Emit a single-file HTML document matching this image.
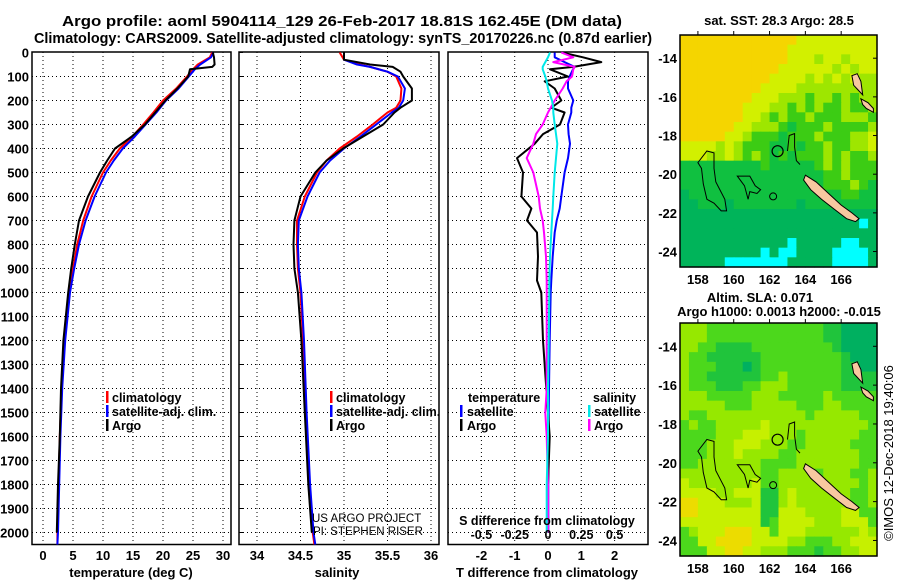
<!DOCTYPE html>
<html><head><meta charset="utf-8">
<style>
html,body{margin:0;padding:0;background:#fff;}
svg{display:block;font-family:"Liberation Sans",sans-serif;}
.b{font-weight:bold;}
</style></head>
<body>
<svg id="fig" width="900" height="580" viewBox="0 0 900 580" xmlns="http://www.w3.org/2000/svg">
<text x="342" y="26" text-anchor="middle" class="b" font-size="14.5" textLength="560" lengthAdjust="spacingAndGlyphs">Argo profile: aoml 5904114_129 26-Feb-2017 18.81S 162.45E (DM data)</text>
<text x="343" y="43" text-anchor="middle" class="b" font-size="14.5" textLength="618" lengthAdjust="spacingAndGlyphs">Climatology: CARS2009. Satellite-adjusted climatology: synTS_20170226.nc (0.87d earlier)</text>
<g id="plots"></g>
<g id="maps"></g>
<text transform="translate(893,453) rotate(-90)" text-anchor="middle" font-size="13">©IMOS 12-Dec-2018 19:40:06</text>
</svg>
<script>
// ---- data ----
const depthTemp = [0,20,50,70,100,150,200,250,300,350,400,450,500,600,700,800,900,1000,1200,1400,1600,1800,2000,2050];
const tempClim  = [28.2,27.8,25.8,25.0,24.0,22.2,20.0,18.4,16.7,14.9,12.8,11.3,10.0,8.1,6.7,5.7,5.0,4.4,3.6,3.1,2.8,2.6,2.4,2.4];
const tempSat   = [28.4,28.0,26.2,25.3,24.3,22.6,20.5,18.9,17.1,15.3,13.3,11.8,10.5,8.6,7.1,6.0,5.2,4.5,3.7,3.2,2.9,2.7,2.5,2.4];
const depthTempArgo = [0,20,50,60,70,100,150,200,250,300,350,400,450,500,600,700,800,900,1000,1200,1400,1600,1800,2000];
const tempArgo  = [28.3,28.5,28.6,28.2,24.5,24.2,22.4,20.4,18.7,17.0,14.8,12.0,10.7,9.5,7.5,6.0,5.3,4.7,4.2,3.4,3.0,2.8,2.5,2.3];

const depthSal = [0,30,50,60,80,100,150,200,230,250,300,350,400,450,500,600,700,800,900,1000,1200,1500,1800,2000,2050];
const salClim  = [34.95,35.0,35.18,35.3,35.5,35.6,35.66,35.65,35.6,35.5,35.33,35.15,34.95,34.8,34.69,34.55,34.46,34.46,34.47,34.5,34.53,34.56,34.6,34.64,34.66];
const salSat   = [35.0,35.0,35.15,35.3,35.5,35.62,35.7,35.68,35.63,35.55,35.37,35.19,35.0,34.84,34.72,34.58,34.48,34.47,34.48,34.51,34.54,34.57,34.61,34.65,34.67];
const salArgo  = [35.0,35.0,35.3,35.56,35.65,35.68,35.78,35.78,35.65,35.58,35.45,35.22,34.99,34.8,34.67,34.5,34.43,34.42,34.43,34.47,34.51,34.55,34.59,34.63];

const depthDiff = [0,20,40,60,70,100,120,150,200,230,250,300,340,380,440,500,600,650,700,750,850,950,1000,1200,1400,1500,1600,1800,2000];
const dTempArgo = [0.42,1.05,1.6,0.76,0.06,0.6,-0.1,0.2,0.4,0.1,0.5,0.36,-0.15,-0.4,-0.93,-0.75,-0.8,-0.5,-0.63,-0.33,-0.3,-0.33,-0.2,-0.15,-0.05,0,0.05,0,0];
const dTempSat  = [0.2,0.2,0.5,0.8,0.75,0.65,0.6,0.6,0.76,0.7,0.7,0.6,0.62,0.66,0.6,0.5,0.4,0.35,0.26,0.2,0.14,0.1,0.08,0.05,0.03,0.02,0.02,0.01,0.01];
const dSalArgo  = [0.1,0.19,0.04,0.2,0.19,0.18,0.14,0.11,0.05,0.02,0,-0.04,-0.09,-0.11,-0.16,-0.11,-0.07,-0.06,-0.04,-0.03,-0.015,-0.01,-0.01,-0.01,-0.01,-0.02,-0.01,0,0];
const dSalSat   = [0.015,0,-0.02,-0.04,-0.04,-0.02,-0.01,0,0.03,0.04,0.04,0.05,0.06,0.07,0.06,0.05,0.04,0.035,0.03,0.025,0.015,0.01,0.01,0.005,0,0,0,-0.01,-0.01];

const depthTicks = [0,100,200,300,400,500,600,700,800,900,1000,1100,1200,1300,1400,1500,1600,1700,1800,1900,2000];
const tempTicks = [0,5,10,15,20,25,30];
const salTicks = [34,34.5,35,35.5,36];
const salTickLabels = ["34","34.5","35","35.5","36"];
const dTempTicks = [-2,-1,0,1,2];
const dSalTicks = [-0.5,-0.25,0,0.25,0.5];
const dSalTickLabels = ["-0.5","-0.25","0","0.25","0.5"];

const sstGrid = [
"YYYYYYYYYYYYYyyyyyyyyy","YYYYYYYYYYYYyyyyyyyyyy","YYYYYYYYYYYYyyylyylyyy","YYYYYYYYYYYyyyyyylylyy",
"YYYYYYYYYYyyyylylylyll","YYYYYYYYYyyyylllllllll","YYYYYYYYyyylllgllglgll","YYYYYYYyyyllglglgglggl",
"YYYYYYYyylglgglggglllg","YYYYYYyylllgGggglggggl","YYYYYyylgggGggglggglly","yyyylylgggGGgGgglgglly",
"yyyllylglgGgGggglglggl","GGGGGGGGGgGGGGGglglggg","GGGGGGGGGGGGGGGGgglggg","GGGGGGGGGGGGGGGGggglgG",
"DGGGGGGGGGGGGGGGGGggGG","DDGGGDGGGGGGGDGGGGGGGG","DDDDDDDDDDDDDDDDDDDDDD","DDDDDDDDDDDDDDDDDDDDcD",
"DDDDDDDDDDDDDDDDDDDDDD","DDDDDDDDDDDDcDDDDDccDD","DDDDDDDDDcDccDDDDccccD","DDDDDcccccccDDDDDccccD"];
const slaGrid = [
"lllgggggggggggggGGDDDD","lllgggggggggggggGGDDDD","llggGGGGgggggggggGDDDD","lggGGGGGGgggggggggGDDD",
"lgggGGGDGgggggggggGGDD","lggGGGGGGgglggggggGGGG","lgggGGGgglllggggggGGGG","lllggggglllggggglggggg",
"lllllggglllllgggllgggg","lgglllllllllllglllllgg","glgglllllylllllllllllg","gggglllyyylllgllllllgg",
"ggglllyyylllgglllllggg","ggglllyllllgglllllllgg","gglllllllgggglllllllgg","lllllllllggllllglllggl",
"ylllllllygglllllllllgl","yyyyllyyyGGlyllllllggl","YYyyylllyGGlyllllllggl","YYyyyyyyyGGyyyllllyygg",
"yyyyyyyyyGgyyyylllyyyg","glyyyYYYyygyyyllllllyl","ggyyYYYYyyyyllgggllyyy","gggyyYYyylllgggGggllyy"];
const latTicks = [-14,-16,-18,-20,-22,-24];
const lonTicks = [158,160,162,164,166];

// ---- helpers ----
const NS="http://www.w3.org/2000/svg";
function mk(tag, attrs, parent){const e=document.createElementNS(NS,tag);for(const k in attrs)e.setAttribute(k,attrs[k]);parent.appendChild(e);return e;}
const plots=document.getElementById('plots');
const maps=document.getElementById('maps');
const yD = d => 52.5 + d*0.24;
const Y0=52, Y1=544.5;

function panel(name,x0,x1,xs,gx){
  const g=mk('g',{},plots);
  
  
  depthTicks.forEach(d=>{ if(d>0) mk('line',{x1:x0,x2:x1,y1:yD(d),y2:yD(d),stroke:'#000','stroke-width':1,'stroke-dasharray':'1,3'},g);});
  gx.forEach(v=>mk('line',{x1:xs(v),x2:xs(v),y1:Y0,y2:Y1,stroke:'#000','stroke-width':1,'stroke-dasharray':'1,3'},g));
  const r=mk('rect',{x:x0,y:Y0,width:x1-x0,height:Y1-Y0,fill:'none',stroke:'#000','stroke-width':1.5},g);
  
  
  return g;
}
function series(g,name,ds,vs,xs,col,w){
  const pts=vs.map((v,i)=>xs(v).toFixed(1)+','+yD(ds[i]).toFixed(1)).join(' ');
  const p=mk('polyline',{points:pts,fill:'none',stroke:col,'stroke-width':w||2,'stroke-linejoin':'round'},g);
  
  
}
function txt(g,name,x,y,s,opt){
  const t=mk('text',Object.assign({x:x,y:y,'font-size':13,'font-weight':'bold'},opt||{}),g);
  t.textContent=s;
  
  
  return t;
}
function legendBar(g,name,x,y,col){
  const r=mk('rect',{x:x,y:y-6,width:2.5,height:12,fill:col},g);
  
  
}
const LF={'font-size':12.5};

// ---- panel 1: temperature ----
const xT = v => 43 + v*6;
const g1=panel('temperature-panel',32,231,xT,tempTicks);
series(g1,'temp-climatology-line',depthTemp,tempClim,xT,'#ff0000');
series(g1,'temp-satellite-line',depthTemp,tempSat,xT,'#0000ff');
series(g1,'temp-argo-line',depthTempArgo,tempArgo,xT,'#000000');
depthTicks.forEach(d=>txt(g1,'depth-tick-label',29,yD(d)+5,String(d),{'text-anchor':'end'}));
tempTicks.forEach(v=>txt(g1,'temp-tick-label',xT(v),560,String(v),{'text-anchor':'middle'}));
txt(g1,'temp-axis-title',131,577,'temperature (deg C)',{'text-anchor':'middle'});
legendBar(g1,'legend-climatology-swatch',106,397,'#ff0000');
txt(g1,'legend-climatology',112,402,'climatology',LF);
legendBar(g1,'legend-satellite-swatch',106,411,'#0000ff');
txt(g1,'legend-satellite',112,416,'satellite-adj. clim.',LF);
legendBar(g1,'legend-argo-swatch',106,425,'#000');
txt(g1,'legend-argo',112,430,'Argo',LF);

// ---- panel 2: salinity ----
const xS = v => 257 + (v-34)*87;
const g2=panel('salinity-panel',239,439,xS,salTicks);
series(g2,'sal-climatology-line',depthSal,salClim,xS,'#ff0000');
series(g2,'sal-satellite-line',depthSal,salSat,xS,'#0000ff');
series(g2,'sal-argo-line',depthSal.slice(0,salArgo.length),salArgo,xS,'#000000');
salTicks.forEach((v,i)=>txt(g2,'sal-tick-label',xS(v),560,salTickLabels[i],{'text-anchor':'middle'}));
depthTicks.forEach(d=>mk('line',{x1:239,x2:243,y1:yD(d),y2:yD(d),stroke:'#000'},g2));
txt(g2,'sal-axis-title',337,577,'salinity',{'text-anchor':'middle'});
legendBar(g2,'legend-climatology-swatch',330,397,'#ff0000');
txt(g2,'legend-climatology',336,402,'climatology',LF);
legendBar(g2,'legend-satellite-swatch',330,411,'#0000ff');
txt(g2,'legend-satellite',336,416,'satellite-adj. clim.',LF);
legendBar(g2,'legend-argo-swatch',330,425,'#000');
txt(g2,'legend-argo',336,430,'Argo',LF);
txt(g2,'credit-project',312,522,'US ARGO PROJECT',{'font-weight':'normal','font-size':11.5});
txt(g2,'credit-pi',313,535,'PI: STEPHEN RISER',{'font-weight':'normal','font-size':11.5});

// ---- panel 3: differences ----
const xDT = v => 548 + v*33.3;
const xDS = v => 548 + v*133.2;
const g3=panel('difference-panel',448,648,xDT,dTempTicks);
series(g3,'dtemp-satellite-line',depthDiff,dTempSat,xDT,'#0000ff');
series(g3,'dtemp-argo-line',depthDiff,dTempArgo,xDT,'#000000');
series(g3,'dsal-argo-line',depthDiff,dSalArgo,xDS,'#ff00ff');
series(g3,'dsal-satellite-line',depthDiff,dSalSat,xDS,'#00e8e8');
dTempTicks.forEach(v=>txt(g3,'dtemp-tick-label',xDT(v),560,String(v),{'text-anchor':'middle'}));
dSalTicks.forEach((v,i)=>txt(g3,'dsal-tick-label',xDS(v),539,dSalTickLabels[i],{'text-anchor':'middle','font-size':12.5}));
txt(g3,'dsal-axis-title',547,525,'S difference from climatology',{'text-anchor':'middle','font-size':12.5});
txt(g3,'dtemp-axis-title',547,577,'T difference from climatology',{'text-anchor':'middle'});
txt(g3,'legend-temperature-heading',468,402,'temperature',LF);
legendBar(g3,'legend-tsat-swatch',460,411,'#0000ff');
txt(g3,'legend-tsat',467,416,'satellite',LF);
legendBar(g3,'legend-targo-swatch',460,425,'#000');
txt(g3,'legend-targo',467,430,'Argo',LF);
txt(g3,'legend-salinity-heading',593,402,'salinity',LF);
legendBar(g3,'legend-ssat-swatch',588,411,'#00e8e8');
txt(g3,'legend-ssat',594,416,'satellite',LF);
legendBar(g3,'legend-sargo-swatch',588,425,'#ff00ff');
txt(g3,'legend-sargo',594,430,'Argo',LF);

// ---- maps ----
const palSST={Y:'#f5d500',y:'#d2f000',l:'#9ee600',g:'#3ccc14',G:'#10c040',D:'#00b45a',c:'#00ffff'};
const palSLA={Y:'#ecdc00',y:'#c6f000',l:'#96e800',g:'#4cd81c',G:'#20c43c',D:'#00b060'};
const MX0=680,MX1=877,LON0=157,LON1=168,LAT0=-12.8,LAT1=-24.8;
function drawMap(name,top,bottom,grid,pal){
  const g=mk('g',{},maps);
  
  
  const px=lon=>MX0+(lon-LON0)*(MX1-MX0)/(LON1-LON0);
  const py=lat=>top+(LAT0-lat)*(bottom-top)/(LAT0-LAT1);
  const cw=(MX1-MX0)/22, ch=(bottom-top)/24;
  grid.forEach((row,r)=>{for(let c=0;c<row.length;c++){
    mk('rect',{x:(MX0+c*cw).toFixed(2),y:(top+r*ch).toFixed(2),width:(cw+0.6).toFixed(2),height:(ch+0.6).toFixed(2),fill:pal[row[c]]},g);
  }});
  const poly=(pts,attrs,nm)=>{const p=mk('polygon',Object.assign({points:pts.map(q=>px(q[0]).toFixed(1)+','+py(q[1]).toFixed(1)).join(' ')},attrs),g);};
  const pl=(pts,nm)=>{const p=mk('polyline',{points:pts.map(q=>px(q[0]).toFixed(1)+','+py(q[1]).toFixed(1)).join(' '),fill:'none',stroke:'#000','stroke-width':1},g);};
  const land={fill:'#f8c8a0',stroke:'#000','stroke-width':1};
  poly([[164.0,-20.05],[164.6,-20.4],[165.3,-21.0],[166.0,-21.6],[166.6,-22.0],[167.0,-22.3],[166.8,-22.45],[166.3,-22.3],[165.6,-21.8],[164.9,-21.3],[164.3,-20.8],[163.9,-20.3]],land,'new-caledonia');
  poly([[166.6,-14.9],[166.9,-14.8],[167.1,-15.2],[167.2,-15.9],[166.9,-15.6],[166.7,-15.4]],land,'vanuatu-island-north');
  poly([[167.1,-16.1],[167.5,-16.3],[167.8,-16.6],[167.8,-16.8],[167.4,-16.6],[167.2,-16.4]],land,'vanuatu-island-south');
  poly([[158.5,-18.8],[158.9,-18.9],[158.9,-19.7],[159.0,-20.4],[159.5,-21.3],[159.6,-21.9],[159.3,-21.9],[158.9,-21.5],[158.5,-21.3],[158.3,-20.5],[158.2,-19.7],[158.0,-19.4]],{fill:'none',stroke:'#000','stroke-width':1},'contour-west');
  poly([[160.2,-20.1],[160.9,-20.1],[161.2,-20.6],[161.5,-20.8],[161.3,-21.0],[160.9,-20.9],[160.8,-21.3],[160.6,-20.6]],{fill:'none',stroke:'#000','stroke-width':1},'contour-middle');
  pl([[163.0,-18.8],[163.1,-18.0],[163.4,-17.9],[163.4,-18.6],[163.5,-19.3],[163.7,-19.5]],'contour-east');
  const c2=mk('circle',{cx:px(162.2),cy:py(-21.15),r:3.5,fill:'none',stroke:'#000'},g);
  
  
  const c=mk('circle',{cx:px(162.45),cy:py(-18.81),r:5.5,fill:'none',stroke:'#000','stroke-width':1.2},g);
  
  
  const fr=mk('rect',{x:MX0,y:top,width:MX1-MX0,height:bottom-top,fill:'none',stroke:'#000','stroke-width':1.5},g);
  
  
  latTicks.forEach(v=>{txt(g,'lat-tick-label',677,py(v)+5,String(v),{'text-anchor':'end'});
    mk('line',{x1:MX1-4,x2:MX1,y1:py(v),y2:py(v),stroke:'#000'},g);});
  lonTicks.forEach(v=>{txt(g,'lon-tick-label',px(v),bottom+17,String(v),{'text-anchor':'middle'});
    mk('line',{x1:px(v),x2:px(v),y1:top-4,y2:top,stroke:'#000'},g);});
  return g;
}
const m1=drawMap('sst-map',35,267,sstGrid,palSST);
txt(m1,'sst-map-title',779,25,'sat. SST: 28.3 Argo: 28.5',{'text-anchor':'middle'});
const m2=drawMap('sla-map',323,556,slaGrid,palSLA);
txt(m2,'sla-map-title',760,302,'Altim. SLA: 0.071',{'text-anchor':'middle'});
txt(m2,'sla-map-subtitle',779,316,'Argo h1000: 0.0013 h2000: -0.015',{'text-anchor':'middle'});
</script>
</body></html>
